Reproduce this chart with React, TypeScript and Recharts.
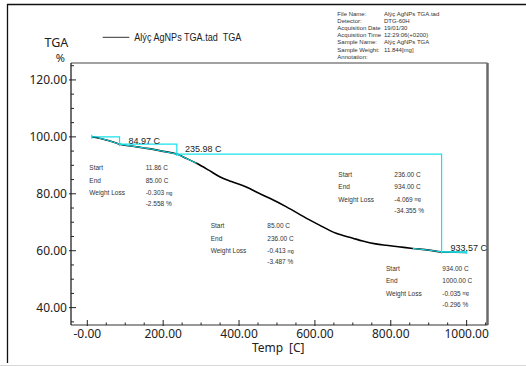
import React from 'react';
import { LineChart, Line, XAxis, YAxis, ReferenceLine } from 'recharts';

// ---- data ----
const temps = [11.86, 30, 50, 70, 85, 120, 150, 174, 200, 236, 260, 288, 320, 349, 380, 419, 454, 481, 525, 582, 612, 656, 700, 726, 760, 788, 820, 858, 900, 934, 970, 1000];
const tgaValues = [100, 99.6, 98.9, 98.1, 97.44, 96.7, 96.1, 95.6, 94.9, 93.96, 92.5, 90.7, 88.3, 86.0, 84.3, 82.4, 80.1, 78.4, 75.4, 71.1, 69.0, 66.1, 64.4, 63.4, 62.4, 61.9, 61.4, 60.8, 60.2, 59.6, 59.45, 59.35];

const stepTemps = [11.86, 85, 85, 236, 236, 934, 934, 1000];
const stepValues = [100, 100, 97.44, 97.44, 93.96, 93.96, 59.6, 59.6];

const markerTemps = [11.86, 85, 236, 934, 1000];
const markerValues = [100, 97.44, 93.96, 59.6, 59.6];

const highlightRanges = [[30, 85], [85, 236], [236, 288], [858, 1000]];

const xDomain = [-43, 1055];
const yDomain = [33.9, 125.95];
const xMinorTicks = [0, 50, 100, 150, 200, 250, 300, 350, 400, 450, 500, 550, 600, 650, 700, 750, 800, 850, 900, 950, 1000, 1050];
const xMajorTicks = [0, 200, 400, 600, 800, 1000];
const xTickLabels = ['-0.00', '200.00', '400.00', '600.00', '800.00', '1000.00'];
const yMinorTicks = [35, 40, 45, 50, 55, 60, 65, 70, 75, 80, 85, 90, 95, 100, 105, 110, 115, 120, 125];
const yMajorTicks = [40, 60, 80, 100, 120];
const yTickLabels = ['40.00', '60.00', '80.00', '100.00', '120.00'];

const tempLabels = ['84.97 C', '235.98 C', '933.57 C'];

const infoLabels = ['File Name:', 'Detector:', 'Acquisition Date', 'Acquisition Time', 'Sample Name:', 'Sample Weight:', 'Annotation:'];
const infoValues = ['Alýç AgNPs TGA.tad', 'DTG-60H', '19/01/30', '12:29:06(+0200)', 'Alýç AgNPs TGA', '11.844[mg]', ''];

const annStart = ['11.86 C', '85.00 C', '236.00 C', '934.00 C'];
const annEnd = ['85.00 C', '236.00 C', '934.00 C', '1000.00 C'];
const annLossMg = ['-0.303', '-0.413', '-4.069', '-0.035'];
const annLossPct = ['-2.558 %', '-3.487 %', '-34.355 %', '-0.296 %'];

// ---- derived series ----
const curve = temps.map((t, i) => ({ t, v: tgaValues[i] }));
const step = stepTemps.map((t, i) => ({ t, v: stepValues[i] }));
const highlights = highlightRanges.map(([a, b]) => curve.filter((p) => p.t >= a && p.t <= b));

// ---- layout (pixels) ----
const W = 526;
const H = 366;
const CYAN = '#16e2ea';
const SMALL = 'Liberation Sans, Arial, sans-serif';
const TICKFONT = 'Noto Sans, Open Sans, sans-serif';

const tempLabelPos = [
  { x: 128.5, y: 140.7 },
  { x: 185, y: 149 },
  { x: 450.5, y: 247.7 },
];
const annPos = [
  { lx: 89.3, vx: 145.7, y: 167.7 },
  { lx: 210.7, vx: 267.3, y: 225.7 },
  { lx: 338.3, vx: 394.3, y: 174 },
  { lx: 386, vx: 442.3, y: 268.3 },
];
const annRowOffsets = [0, 12.5, 25, 36];

const XTick = (props: any) => {
  const { x, y, payload } = props;
  const idx = xMajorTicks.indexOf(payload.value);
  const major = idx >= 0;
  return (
    <g>
      <line x1={x} x2={x} y1={y + (major ? 1 : 0)} y2={y - (major ? 5 : 2.5)} stroke="#222" strokeWidth={1} />
      {major && (
        <text x={x} y={y + 8} textAnchor="middle" dominantBaseline="central" fontSize={12} fontFamily={TICKFONT} fill="#222">
          {xTickLabels[idx]}
        </text>
      )}
    </g>
  );
};

const YTick = (props: any) => {
  const { x, y, payload } = props;
  const idx = yMajorTicks.indexOf(payload.value);
  const major = idx >= 0;
  return (
    <g>
      <line x1={x - (major ? 2 : 0)} x2={x + (major ? 5 : 3)} y1={y} y2={y} stroke="#222" strokeWidth={1} />
      {major && (
        <text x={x - 4} y={y} textAnchor="end" dominantBaseline="central" fontSize={12} fontFamily={TICKFONT} fill="#222">
          {yTickLabels[idx]}
        </text>
      )}
    </g>
  );
};

export default function App() {
  return (
    <div style={{ position: 'absolute', left: 0, top: 0, width: W, height: H, background: '#fff' }}>
      <LineChart width={W} height={H} margin={{ top: 63, right: 38.5, bottom: 11, left: 11 }}>
        <XAxis
          dataKey="t"
          type="number"
          domain={xDomain}
          ticks={xMinorTicks}
          interval={0}
          tickLine={false}
          tickSize={0}
          tickMargin={0}
          tick={<XTick />}
          height={30}
          axisLine={{ stroke: '#333', strokeWidth: 1.2 }}
          allowDataOverflow
        />
        <YAxis
          type="number"
          domain={yDomain}
          ticks={yMinorTicks}
          interval={0}
          tickLine={false}
          tickSize={0}
          tickMargin={0}
          tick={<YTick />}
          width={60}
          axisLine={{ stroke: '#111', strokeWidth: 1.2 }}
          allowDataOverflow
        />
        <ReferenceLine y={yDomain[1]} stroke="#444" strokeWidth={1.2} ifOverflow="visible" />
        <ReferenceLine x={xDomain[1]} stroke="#6a6a6a" strokeWidth={2.5} ifOverflow="visible" />
        <Line data={curve} dataKey="v" type="monotone" stroke="#000" strokeWidth={1.6} dot={false} isAnimationActive={false} />
        {highlights.map((seg, i) => (
          <Line key={'h' + i} data={seg} dataKey="v" type="monotone" stroke={CYAN} strokeWidth={1} dot={false} isAnimationActive={false} />
        ))}
        <Line data={step} dataKey="v" type="linear" stroke={CYAN} strokeWidth={1.2} dot={false} isAnimationActive={false} />
        {markerTemps.map((t, i) => (
          <ReferenceLine
            key={'m' + i}
            segment={[
              { x: t, y: markerValues[i] + (i === 0 || i === markerTemps.length - 1 ? 0.7 : 0) },
              { x: t, y: markerValues[i] - 0.7 },
            ]}
            stroke={CYAN}
            strokeWidth={1.2}
            ifOverflow="visible"
          />
        ))}
      </LineChart>

      <svg width={W} height={H} style={{ position: 'absolute', left: 0, top: 0, pointerEvents: 'none' }}>
        {/* outer frame */}
        <line x1={7} y1={4.5} x2={W} y2={4.5} stroke="#111" strokeWidth={1.3} />
        <line x1={7.5} y1={4} x2={7.5} y2={363} stroke="#111" strokeWidth={1.3} />
        <line x1={0} y1={365.5} x2={W} y2={365.5} stroke="#d8d8d8" strokeWidth={1} />

        {/* axis titles */}
        <text x={68.3} y={42} textAnchor="end" dominantBaseline="central" fontSize={12.5} fontFamily={TICKFONT} fill="#222">TGA</text>
        <text x={65} y={57} textAnchor="end" dominantBaseline="central" fontSize={11} fontFamily={TICKFONT} fill="#222">%</text>
        <text x={252} y={347.5} dominantBaseline="central" fontSize={12} fontFamily={TICKFONT} fill="#222">Temp</text>
        <text x={289} y={347.5} dominantBaseline="central" fontSize={12} fontFamily={TICKFONT} fill="#222">[C]</text>

        {/* legend */}
        <line x1={102.7} y1={37.3} x2={129.3} y2={37.3} stroke="#333" strokeWidth={1} />
        <text x={134.3} y={37.5} dominantBaseline="central" fontSize={10} fontFamily={SMALL} fill="#222" textLength={107} lengthAdjust="spacingAndGlyphs">
          {'Alýç AgNPs TGA.tad\u00a0 TGA'}
        </text>

        {/* info block */}
        {infoLabels.map((l, i) => (
          <g key={'i' + i}>
            <text x={337.3} y={14 + i * 7.1} dominantBaseline="central" fontSize={6} fontFamily={SMALL} fill="#333">{l}</text>
            {infoValues[i] && (
              <text x={384} y={14 + i * 7.1} dominantBaseline="central" fontSize={6} fontFamily={SMALL} fill="#333">{infoValues[i]}</text>
            )}
          </g>
        ))}

        {/* temperature labels */}
        {tempLabels.map((s, i) => (
          <text key={'t' + i} x={tempLabelPos[i].x} y={tempLabelPos[i].y} dominantBaseline="central" fontSize={9} fontFamily={SMALL} fill="#222">{s}</text>
        ))}

        {/* annotation blocks */}
        {annPos.map((p, i) => (
          <g key={'a' + i} fontSize={6.5} fontFamily={SMALL} fill="#333">
            <text x={p.lx} y={p.y + annRowOffsets[0]} dominantBaseline="central">Start</text>
            <text x={p.lx} y={p.y + annRowOffsets[1]} dominantBaseline="central">End</text>
            <text x={p.lx} y={p.y + annRowOffsets[2]} dominantBaseline="central">Weight Loss</text>
            <text x={p.vx} y={p.y + annRowOffsets[0]} dominantBaseline="central">{annStart[i]}</text>
            <text x={p.vx} y={p.y + annRowOffsets[1]} dominantBaseline="central">{annEnd[i]}</text>
            <text x={p.vx} y={p.y + annRowOffsets[2]} dominantBaseline="central">
              {annLossMg[i] + ' '}
              <tspan fontSize={5} letterSpacing={-0.6}>mg</tspan>
            </text>
            <text x={p.vx} y={p.y + annRowOffsets[3]} dominantBaseline="central">{annLossPct[i]}</text>
          </g>
        ))}
      </svg>
    </div>
  );
}
